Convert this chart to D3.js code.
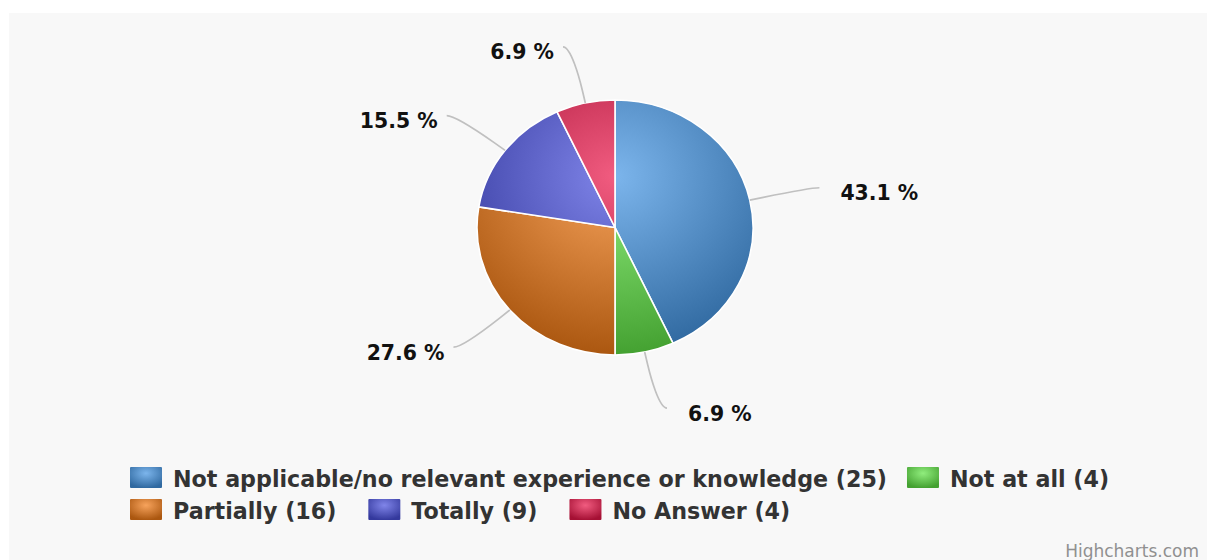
<!DOCTYPE html>
<html>
<head>
<meta charset="utf-8">
<script src="https://cdn.jsdelivr.net/npm/d3@7/dist/d3.min.js"></script>
<style>
  html, body { margin: 0; padding: 0; background: #ffffff; }
  svg { display: block; font-family: "DejaVu Sans", Verdana, sans-serif; }
</style>
</head>
<body>
<svg id="chart" width="1208" height="560"></svg>
<script>
// Survey answers: category names, response counts and slice colours
const categories = [
  "Not applicable/no relevant experience or knowledge",
  "Not at all",
  "Partially",
  "Totally",
  "No Answer"
];
const counts = [25, 4, 16, 9, 4];
const colors = ["#7cb5ec", "#90ed7d", "#f7a35c", "#8085e9", "#f15c80"];
// Which categories sit on each legend line
const legendRows = [[0, 1], [2, 3, 4]];
const creditText = "Highcharts.com";

const svg = d3.select("#chart");
const W = 1208, H = 560;

// Chart panel
svg.append("rect").attr("x", 9).attr("y", 13).attr("width", W - 10).attr("height", H - 13)
  .attr("fill", "#f8f8f8");

// Pie geometry (slightly wider than tall)
const cx = 615, cy = 227.5, ry = 127.5, rx = 138;
const sx = rx / ry;

const defs = svg.append("defs");
const darken = c => { const r = d3.rgb(c); return d3.rgb(r.r - 76, r.g - 76, r.b - 76).formatHex(); };

// Gradients shared by the whole pie (centred in the upper part of the pie)
colors.forEach((c, i) => {
  const g = defs.append("radialGradient").attr("id", "pie-grad-" + i)
    .attr("gradientUnits", "userSpaceOnUse")
    .attr("cx", 0).attr("cy", -ry + 0.3 * 2 * ry).attr("r", 0.7 * 2 * ry);
  g.append("stop").attr("offset", 0).attr("stop-color", c);
  g.append("stop").attr("offset", 1).attr("stop-color", darken(c));
  const lg = defs.append("radialGradient").attr("id", "leg-grad-" + i)
    .attr("cx", 0.5).attr("cy", 0.3).attr("r", 0.7);
  lg.append("stop").attr("offset", 0).attr("stop-color", c);
  lg.append("stop").attr("offset", 1).attr("stop-color", darken(c));
});

const total = d3.sum(counts);
const pie = d3.pie().sort(null).value(d => d);
const arcs = pie(counts);
const arc = d3.arc().innerRadius(0).outerRadius(ry);

const gPie = svg.append("g").attr("transform", `translate(${cx},${cy}) scale(${sx},1)`);
gPie.selectAll("path.slice").data(arcs).enter().append("path")
  .attr("class", "slice")
  .attr("d", arc)
  .attr("fill", (d, i) => `url(#pie-grad-${i})`)
  .attr("stroke", "#ffffff")
  .attr("stroke-width", 1.6)
  .attr("stroke-linejoin", "round")
  .attr("vector-effect", "non-scaling-stroke");

// Data labels with soft connectors
const fmt = d3.format(".1f");
const at = (a, k) => [cx + rx * k * Math.sin(a), cy - ry * k * Math.cos(a)];
const gLab = svg.append("g");
arcs.forEach((d, i) => {
  const a = (d.startAngle + d.endAngle) / 2;
  const side = Math.sin(a) >= 0 ? 1 : -1;
  const E = at(a, 1.0);
  const B = at(a, 1.1);
  const A0 = at(a, 1.45);
  const A = [A0[0] + side * 9, A0[1]];
  const C2 = [2 * B[0] - E[0], 2 * B[1] - E[1]];
  const p = d3.path();
  p.moveTo(A[0], A[1]);
  p.bezierCurveTo(A[0] - side * 8, A[1], C2[0], C2[1], B[0], B[1]);
  p.lineTo(E[0], E[1]);
  gLab.append("path").attr("d", p.toString())
    .attr("fill", "none").attr("stroke", "#c0c0c0").attr("stroke-width", 1.7);
  gLab.append("text")
    .attr("x", side > 0 ? A[0] + 21 : A[0] - 9)
    .attr("y", A[1] + 12.5)
    .attr("text-anchor", side > 0 ? "start" : "end")
    .attr("font-size", 20.4).attr("font-weight", "bold").attr("fill", "#111111")
    .text(fmt(counts[i] / total * 100) + " %");
});

// Legend: rows flow left to right from a common left edge
const legX = 130, legBase = [487, 519], legGap = [20, 32];
const symW = 32, symH = 21, textOff = 43;
const gLeg = svg.append("g");
legendRows.forEach((row, r) => {
  let x = legX;
  row.forEach(i => {
    gLeg.append("rect").attr("x", x).attr("y", legBase[r] - 20)
      .attr("width", symW).attr("height", symH).attr("rx", 1)
      .attr("fill", `url(#leg-grad-${i})`);
    const t = gLeg.append("text").attr("x", x + textOff).attr("y", legBase[r])
      .attr("font-size", 22.2).attr("font-weight", "bold").attr("fill", "#333333")
      .text(`${categories[i]} (${counts[i]})`);
    x += textOff + t.node().getComputedTextLength() + legGap[r];
  });
});

// Credits
svg.append("text").attr("x", 1199).attr("y", 557).attr("text-anchor", "end")
  .attr("font-size", 17).attr("fill", "#909090").text(creditText);
</script>
</body>
</html>
